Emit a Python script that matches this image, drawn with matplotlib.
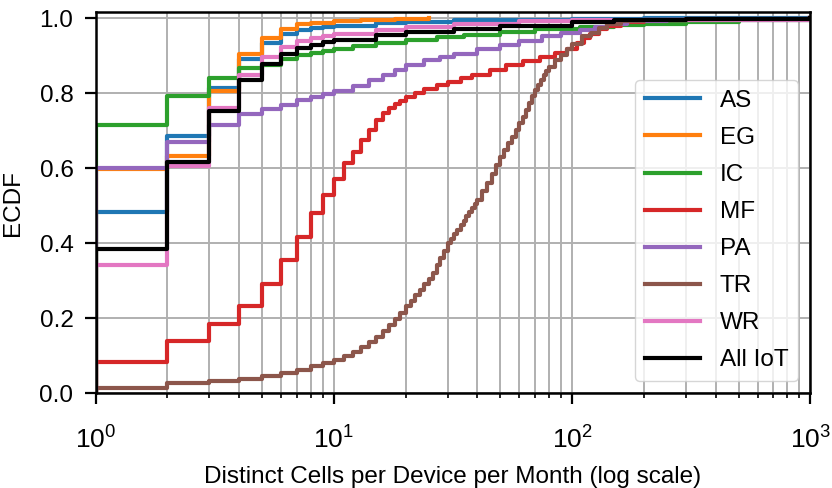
import matplotlib
matplotlib.use("Agg")
import matplotlib.pyplot as plt
import numpy as np

plt.rcParams['font.family'] = ['Liberation Sans', 'DejaVu Sans']
plt.rcParams['font.size'] = 17.5

labels = ['AS', 'EG', 'IC', 'MF', 'PA', 'TR', 'WR', 'All IoT']
colors = ['#1f77b4', '#ff7f0e', '#2ca02c', '#d62728', '#9467bd', '#8c564b', '#e377c2', 'black']

# ECDF values read at integer cell counts
as_x = [1, 2, 3, 4, 5, 6, 7, 8, 9, 10, 15, 20, 32, 50, 100, 200, 1000]
as_f = [0.485, 0.686, 0.815, 0.893, 0.935, 0.959, 0.968, 0.974, 0.978, 0.981, 0.988, 0.991, 0.995, 0.997, 0.999, 1.0, 1.0]

eg_x = [1, 2, 3, 4, 5, 6, 7, 8, 10, 13, 18, 25]
eg_f = [0.598, 0.633, 0.807, 0.904, 0.949, 0.972, 0.984, 0.988, 0.992, 0.995, 0.998, 1.0]

ic_x = [1, 2, 3, 4, 5, 6, 7, 8, 9, 10, 12, 15, 20, 27, 35, 50, 70, 108, 150, 200, 300, 500, 1000]
ic_f = [0.715, 0.793, 0.842, 0.868, 0.877, 0.893, 0.902, 0.908, 0.913, 0.918, 0.926, 0.934, 0.942, 0.950, 0.957,
        0.965, 0.972, 0.977, 0.982, 0.986, 0.990, 0.995, 1.0]

mf_x = [1, 2, 3, 4, 5, 6, 7, 8, 9, 10, 11, 12, 13, 14, 15, 16, 17, 18, 19, 20, 22, 24, 27, 30, 34, 38, 45, 53,
        62, 73, 85, 95, 105, 112, 119, 130, 140, 160, 200, 300, 1000]
mf_f = [0.083, 0.139, 0.186, 0.234, 0.292, 0.355, 0.418, 0.480, 0.529, 0.572, 0.614, 0.644, 0.676, 0.702, 0.729,
        0.747, 0.760, 0.771, 0.781, 0.791, 0.801, 0.812, 0.822, 0.830, 0.840, 0.848, 0.862, 0.875, 0.886, 0.897,
        0.908, 0.919, 0.935, 0.948, 0.959, 0.972, 0.981, 0.990, 0.995, 0.998, 1.0]

pa_x = [1, 2, 3, 4, 5, 6, 7, 8, 9, 10, 12, 14, 16, 18, 20, 24, 28, 32, 40, 50, 60, 75, 90, 108, 125, 140, 170,
        250, 1000]
pa_f = [0.600, 0.671, 0.715, 0.745, 0.758, 0.770, 0.782, 0.790, 0.798, 0.807, 0.820, 0.835, 0.850, 0.863, 0.875,
        0.888, 0.898, 0.905, 0.918, 0.930, 0.940, 0.952, 0.962, 0.968, 0.978, 0.986, 0.992, 0.996, 1.0]

tr_x = [1, 2, 3, 4, 5, 6, 7, 8, 9, 10, 11, 12, 13, 14, 15, 16, 17, 18, 19, 20, 21, 22, 23, 24, 25, 26, 27, 28,
        29, 30, 31, 32, 33, 34, 35, 36, 37, 38, 39, 40, 42, 44, 46, 48, 50, 52, 54, 56, 58, 60, 62, 64, 66, 68,
        70, 72, 74, 76, 78, 80, 85, 90, 95, 100, 110, 120, 130, 140, 160, 200, 300, 1000]
tr_f = [0.015, 0.027, 0.034, 0.039, 0.046, 0.054, 0.063, 0.072, 0.081, 0.090, 0.100, 0.111, 0.123, 0.136, 0.151,
        0.166, 0.182, 0.198, 0.215, 0.232, 0.246, 0.261, 0.276, 0.291, 0.306, 0.322, 0.341, 0.361, 0.381, 0.401,
        0.413, 0.425, 0.437, 0.449, 0.461, 0.472, 0.483, 0.494, 0.505, 0.516, 0.539, 0.562, 0.585, 0.608, 0.631,
        0.649, 0.667, 0.685, 0.702, 0.720, 0.738, 0.756, 0.774, 0.792, 0.809, 0.822, 0.836, 0.848, 0.860, 0.871,
        0.888, 0.902, 0.918, 0.933, 0.952, 0.962, 0.975, 0.986, 0.993, 0.997, 0.999, 1.0]

wr_x = [1, 2, 3, 4, 5, 6, 7, 8, 9, 10, 15, 20, 32, 60, 100, 1000]
wr_f = [0.341, 0.607, 0.760, 0.848, 0.897, 0.924, 0.941, 0.948, 0.954, 0.959, 0.970, 0.977, 0.986, 0.993, 0.997, 1.0]

all_x = [1, 2, 3, 4, 5, 6, 7, 8, 9, 10, 15, 20, 32, 50, 100, 150, 300, 1000]
all_f = [0.385, 0.616, 0.753, 0.837, 0.879, 0.906, 0.921, 0.930, 0.937, 0.943, 0.956, 0.963, 0.972, 0.980, 0.990,
         0.995, 0.998, 1.0]

series = [(as_x, as_f), (eg_x, eg_f), (ic_x, ic_f), (mf_x, mf_f), (pa_x, pa_f),
          (tr_x, tr_f), (wr_x, wr_f), (all_x, all_f)]

fig, ax = plt.subplots(figsize=(8.32, 4.88), dpi=100)
fig.subplots_adjust(left=0.115, right=0.974, top=0.976, bottom=0.194)

for (xs, fs), lab, col in zip(series, labels, colors):
    x = np.concatenate([[xs[0]], xs])
    f = np.concatenate([[0.0], fs])
    ax.plot(x, f, drawstyle='steps-post', color=col, lw=3, label=lab)

ax.set_xscale('log')
ax.set_xlim(1, 1000)
ax.set_ylim(0, 1.018)
ax.set_yticks([0, 0.2, 0.4, 0.6, 0.8, 1.0])
ax.grid(True, which='both', axis='x', color='#b0b0b0', lw=1.4)
ax.grid(True, which='major', axis='y', color='#b0b0b0', lw=1.4)
ax.set_axisbelow(True)

for s in ax.spines.values():
    s.set_linewidth(1.8)
ax.tick_params(which='major', length=8, width=1.6, pad=8)
ax.tick_params(which='minor', length=3.6, width=1.2)
ax.tick_params(axis='x', which='major', pad=16, labelsize=19)

ax.set_xlabel('Distinct Cells per Device per Month (log scale)', labelpad=9)
ax.set_ylabel('ECDF', labelpad=11)
ax.legend(loc='lower right', handlelength=2.3, labelspacing=0.62, framealpha=0.8)

fig.savefig('out.png', dpi=100)
